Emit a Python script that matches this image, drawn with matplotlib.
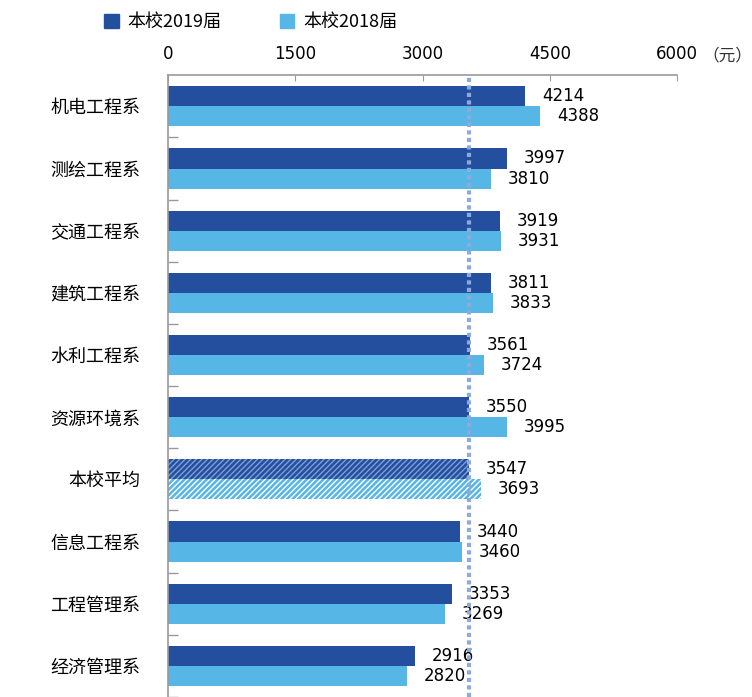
import matplotlib
matplotlib.use('Agg')
import matplotlib.pyplot as plt
from matplotlib.patches import Patch
import numpy as np

# Data

categories = ['机电工程系', '测绘工程系', '交通工程系', '建筑工程系', '水利工程系',
              '资源环境系', '本校平均', '信息工程系', '工程管理系', '经济管理系']
vals_2019 = [4214, 3997, 3919, 3811, 3561, 3550, 3547, 3440, 3353, 2916]
vals_2018 = [4388, 3810, 3931, 3833, 3724, 3995, 3693, 3460, 3269, 2820]
avg_2019 = 3547
x_ticks = [0, 1500, 3000, 4500, 6000]

cjk = ['Noto Sans CJK SC', 'DejaVu Sans']
dark = '#234f9e'
light = '#56b6e6'
grey = '#9a9a9a'

plt.rcParams['hatch.linewidth'] = 1.0

fig = plt.figure(figsize=(7.52, 6.97), dpi=100)
ax = fig.add_axes([168/752, 0.0, 509/752, 1 - 75.25/697])

y = np.arange(len(categories))
h = 0.323
avg_i = categories.index('本校平均')

for i in range(len(categories)):
    if i == avg_i:
        ax.barh(y[i] - h/2, vals_2019[i], height=h, color=dark, hatch='//////',
                edgecolor='#7f9fd6', linewidth=0)
        ax.barh(y[i] + h/2, vals_2018[i], height=h, color=light, hatch='//////',
                edgecolor='white', linewidth=0)
    else:
        ax.barh(y[i] - h/2, vals_2019[i], height=h, color=dark, linewidth=0)
        ax.barh(y[i] + h/2, vals_2018[i], height=h, color=light, linewidth=0)
    ax.annotate(str(vals_2019[i]), (vals_2019[i], y[i] - h/2), xytext=(12, 0),
                textcoords='offset points', ha='left', va='center',
                fontsize=12, family='DejaVu Sans', color='black')
    ax.annotate(str(vals_2018[i]), (vals_2018[i], y[i] + h/2), xytext=(12, 0),
                textcoords='offset points', ha='left', va='center',
                fontsize=12, family='DejaVu Sans', color='black')

# average reference line
ax.axvline(avg_2019, color='#8eaadb', linewidth=3, linestyle=(0, (1.0, 0.8)), zorder=5)

ax.set_xlim(0, 6000)
ax.set_ylim(9.29, -0.5)

ax.xaxis.tick_top()
ax.set_xticks(x_ticks)
ax.set_xticklabels([str(t) for t in x_ticks], fontsize=12, family='DejaVu Sans')
ax.tick_params(axis='x', direction='in', length=4, color=grey, pad=9)
fig.text(702/752, 1 - 56/697, '（元）', fontsize=12, family=cjk,
         ha='left', va='center', color='#333333')

ax.set_yticks(y)
ax.set_yticklabels(categories, fontsize=13, family=cjk)
ax.tick_params(axis='y', which='major', length=0, pad=20)
ax.set_yticks(np.arange(len(categories)) + 0.5, minor=True)
ax.tick_params(axis='y', which='minor', direction='in', length=7, width=1, color=grey)

for s in ['right', 'bottom']:
    ax.spines[s].set_visible(False)
for s in ['left', 'top']:
    ax.spines[s].set_color(grey)
    ax.spines[s].set_linewidth(1.2)

# legend
handles = [Patch(color=dark, label='本校2019届'), Patch(color=light, label='本校2018届')]
fig.legend(handles=handles, loc='center left', bbox_to_anchor=(88/752, 1 - 22/697),
           ncol=2, frameon=False, prop={'family': cjk, 'size': 13},
           handlelength=0.8, handleheight=0.8, handletextpad=0.5, columnspacing=3.2)

plt.savefig('out.png', dpi=100)
